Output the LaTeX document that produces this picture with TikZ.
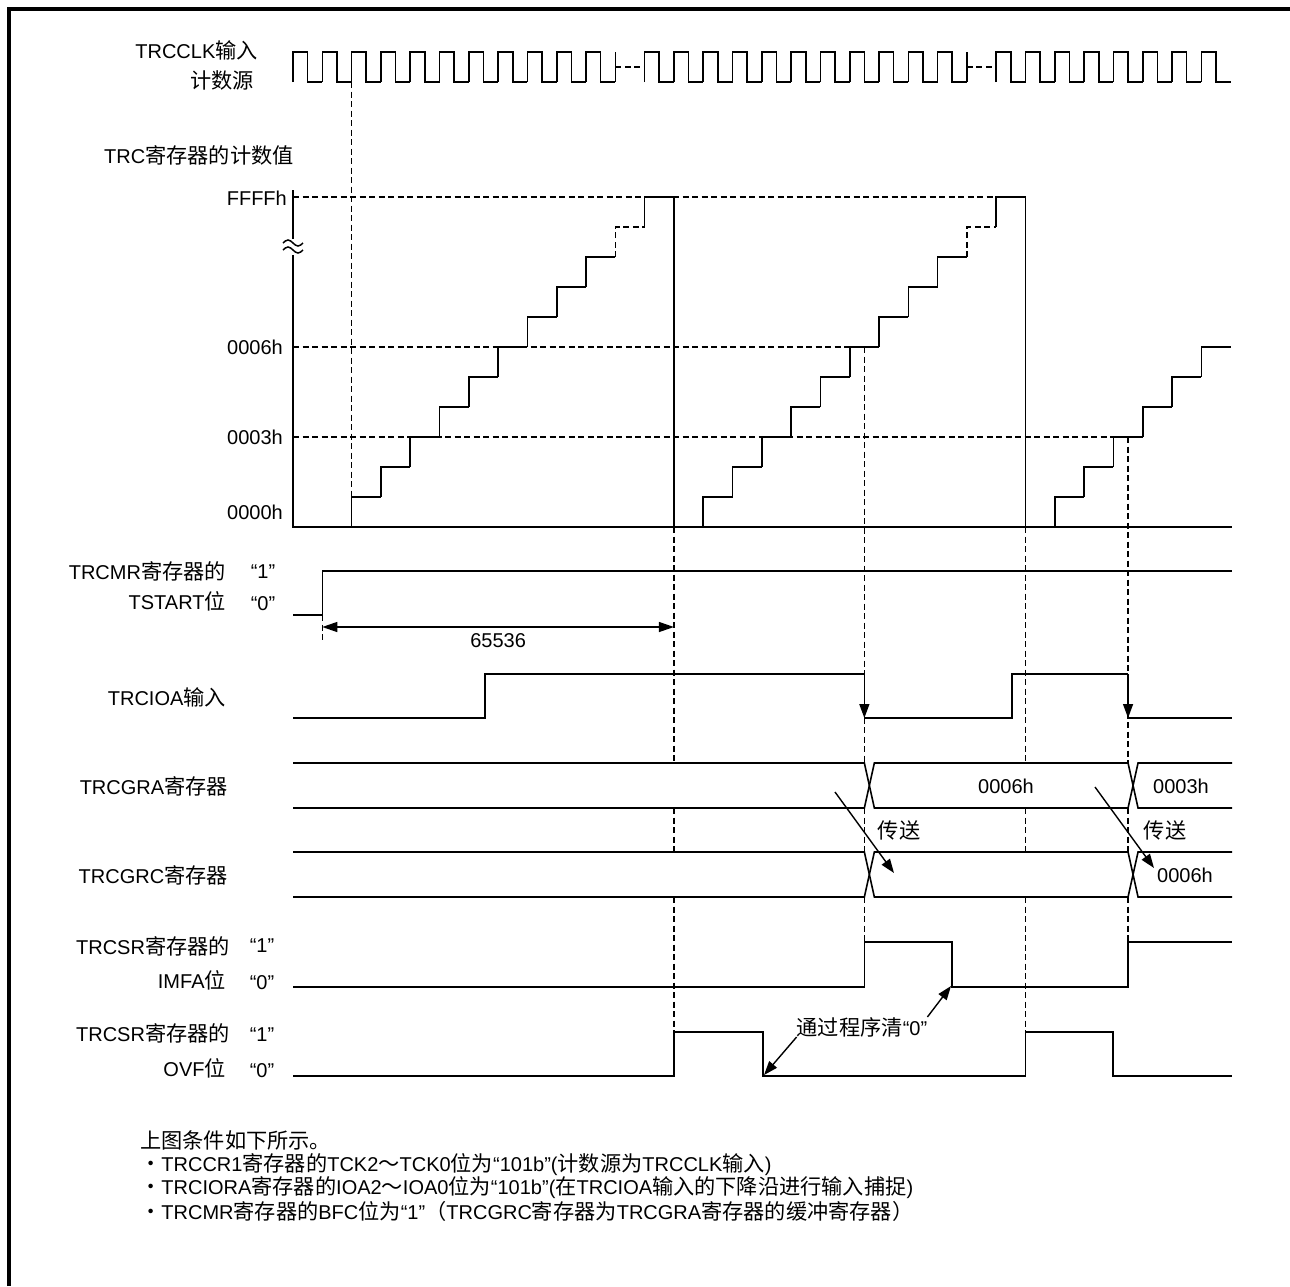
\documentclass[tikz,border=0pt]{standalone}
\usepackage{fontspec}
\setmainfont{Liberation Sans}
\newfontfamily\cjk{Noto Sans CJK SC}[Scale=1.06]
\newcommand{\zh}[1]{{\cjk #1}}
\usetikzlibrary{arrows.meta,calc}
\newcommand{\Per}{29.3}
\tikzset{
  sig/.style={line width=1.6pt, line join=miter},
  guide/.style={line width=1.3pt, dash pattern=on 6pt off 3.5pt},
  lbl/.style={font=\fontsize{20}{24}\selectfont, inner sep=0pt},
  tip/.style={-{Triangle[length=14pt,width=10pt]}, line width=1.4pt},
  frame/.style={line width=3.4pt},
}

\begin{document}
\begin{tikzpicture}[x=1pt, y=-1pt,
  rowlbl/.style={lbl, anchor=east},
  lvl/.style={lbl}]
  \useasboundingbox (0,0) rectangle (1290,1286);
  \pgfmathsetmacro{\tA}{293+13*\Per}
  \pgfmathsetmacro{\tB}{293+25*\Per}
  \pgfmathsetmacro{\cA}{293+19.5*\Per}
  \pgfmathsetmacro{\cB}{293+28.5*\Per}

  \draw[frame] (9,1286) -- (9,9) -- (1290,9);

  % row labels
  \node[rowlbl] (clk1) at (258,50) {TRCCLK\zh{输入}};
  \node[rowlbl] (clk2) at (254,80) {\zh{计数源}};
  \node[lbl, anchor=west] (cnt) at (104,155) {TRC\zh{寄存器的计数值}};
  \node[rowlbl] (vF) at (287,198) {FFFFh};
  \node[rowlbl] (v6) at (283,347) {0006h};
  \node[rowlbl] (v3) at (283,437) {0003h};
  \node[rowlbl] (v0) at (283,512) {0000h};
  \node[rowlbl] (ts1) at (226,571) {TRCMR\zh{寄存器的}};
  \node[rowlbl] (ts2) at (226,601) {TSTART\zh{位}};
  \node[lvl] (ts1v) at (263,572) {“1”};
  \node[lvl] (ts0v) at (263,604) {“0”};
  \node[rowlbl] (ioa) at (226,697) {TRCIOA\zh{输入}};
  \node[rowlbl] (gra) at (228,786) {TRCGRA\zh{寄存器}};
  \node[rowlbl] (grc) at (228,875) {TRCGRC\zh{寄存器}};
  \node[rowlbl] (im1) at (230,946) {TRCSR\zh{寄存器的}};
  \node[rowlbl] (im2) at (226,980) {IMFA\zh{位}};
  \node[lvl] (im1v) at (262,946) {“1”};
  \node[lvl] (im0v) at (262,983) {“0”};
  \node[rowlbl] (ov1) at (230,1033) {TRCSR\zh{寄存器的}};
  \node[rowlbl] (ov2) at (226,1068) {OVF\zh{位}};
  \node[lvl] (ov1v) at (262,1035) {“1”};
  \node[lvl] (ov0v) at (262,1071) {“0”};

  % count source
  \foreach \a/\b in {0/10,12/22,24/31}
    \foreach \n in {\a,...,\b}
      \draw[sig] ({293+\n*\Per},82) |- ({293+(\n+0.5)*\Per},52) |- ({293+(\n+1)*\Per},82);
  \foreach \n in {11,23} {
    \draw[sig] ({293+\n*\Per},82) -- ({293+\n*\Per},52);
    \draw[guide] ({293+\n*\Per},67) -- ({293+(\n+1)*\Per},67);
  }

  % counter value
  \draw[sig] (293,190) -- (293,239) (293,255) -- (293,527) -- (1232,527);
  \foreach \w in {243,250}
    \draw[line width=1.5pt] (283,\w) sin (288,{\w-3}) cos (293,\w) sin (298,{\w+3}) cos (303,\w);
  \draw[guide] (293,197) -- ({293+24*\Per},197);
  \draw[guide] (293,347) -- (\cA,347);
  \draw[guide] (293,437) -- (\cB,437);
  \foreach \s in {0,12} {
    \foreach \k in {1,...,9}
      \draw[sig] ({293+(\s+\k+1)*\Per},{527-(\k-1)*30}) |- ({293+(\s+\k+2)*\Per},{527-\k*30});
    \draw[guide] ({293+(\s+11)*\Per},257) |- ({293+(\s+12)*\Per},227);
    \draw[sig] ({293+(\s+12)*\Per},227) |- ({293+(\s+13)*\Per},197) -- ({293+(\s+13)*\Per},527);
  }
  \foreach \k in {1,...,6}
    \draw[sig] ({293+(\k+25)*\Per},{527-(\k-1)*30}) |- ({293+(\k+26)*\Per},{527-\k*30});

  % TSTART
  \draw[sig] (293,615) -| ({293+\Per},571) -- (1232,571);
  \draw[guide] ({293+\Per},615) -- ({293+\Per},643);
  \coordinate (spanL) at ({293+\Per},627);
  \coordinate (spanR) at (\tA,627);
  \draw[{Triangle[length=15pt,width=10pt]}-{Triangle[length=15pt,width=10pt]}, line width=1.4pt]
    (spanL) -- node[lbl, below=6pt] (span) {65536} (spanR);

  % TRCIOA
  \draw[sig] (293,718) -| (485,674) -- (\cA,674);
  \draw[tip] (\cA,674) -- (\cA,718);
  \draw[sig] (\cA,718) -| (1012,674) -- (\cB,674);
  \draw[tip] (\cB,674) -- (\cB,718);
  \draw[sig] (\cB,718) -- (1232,718);

  % TRCGRA / TRCGRC
  \foreach \yt/\yb in {763/808,852/897} {
    \draw[sig] (293,\yt) -- (\cA,\yt) -- ({\cA+10},\yb) -- (\cB,\yb) -- ({\cB+10},\yt) -- (1232,\yt);
    \draw[sig] (293,\yb) -- (\cA,\yb) -- ({\cA+10},\yt) -- (\cB,\yt) -- ({\cB+10},\yb) -- (1232,\yb);
  }
  \node[lbl] (gra6) at (1006,786) {0006h};
  \node[lbl] (gra3) at (1181,786) {0003h};
  \node[lbl] (grc6) at (1185,875) {0006h};
  \node[lbl] (tx1) at (899,830) {\zh{传送}};
  \node[lbl] (tx2) at (1165,830) {\zh{传送}};
  \coordinate (tr1s) at (835,792);
  \coordinate (tr1e) at (894,873);
  \coordinate (tr2s) at (1095,787);
  \coordinate (tr2e) at (1154,868);
  \draw[tip] (tr1s) -- (tr1e);
  \draw[tip] (tr2s) -- (tr2e);

  % guide lines
  \draw[guide] ({293+2*\Per},82) -- ({293+2*\Per},527);
  \foreach \x/\ya/\yb in {\tA/527/1032,\cA/347/942,\tB/527/1032,\cB/437/942}
    \draw[guide] (\x,\ya) -- (\x,763) (\x,808) -- (\x,852) (\x,897) -- (\x,\yb);

  % IMFA / OVF
  \draw[sig] (293,987) -| (\cA,942) -| (952,987) -| (\cB,942) -- (1232,942);
  \draw[sig] (293,1076) -| (\tA,1032) -| (763,1076) -| (\tB,1032) -| (1113,1076) -- (1232,1076);
  \node[lbl] (clr) at (862,1027) {\zh{通过程序清}“0”};
  \coordinate (imfaLow) at (951,986);
  \coordinate (ovfLow) at (764,1075);
  \draw[tip] (clr.north east) -- (imfaLow);
  \draw[tip] (clr.south west) -- (ovfLow);

  % notes
  \node[lbl, anchor=west] (n0) at (140,1140) {\zh{上图条件如下所示。}};
  \node[lbl, anchor=west] (n1) at (140,1165) {\zh{・}TRCCR1\zh{寄存器的}TCK2\zh{～}TCK0\zh{位为}“101b”(\zh{计数源为}TRCCLK\zh{输入})};
  \node[lbl, anchor=west] (n2) at (140,1188) {\zh{・}TRCIORA\zh{寄存器的}IOA2\zh{～}IOA0\zh{位为}“101b”(\zh{在}TRCIOA\zh{输入的下降沿进行输入捕捉})};
  \node[lbl, anchor=west] (n3) at (140,1211) {\zh{・}TRCMR\zh{寄存器的}BFC\zh{位为}“1”\zh{（}TRCGRC\zh{寄存器为}TRCGRA\zh{寄存器的缓冲寄存器）}};
\end{tikzpicture}
\end{document}
